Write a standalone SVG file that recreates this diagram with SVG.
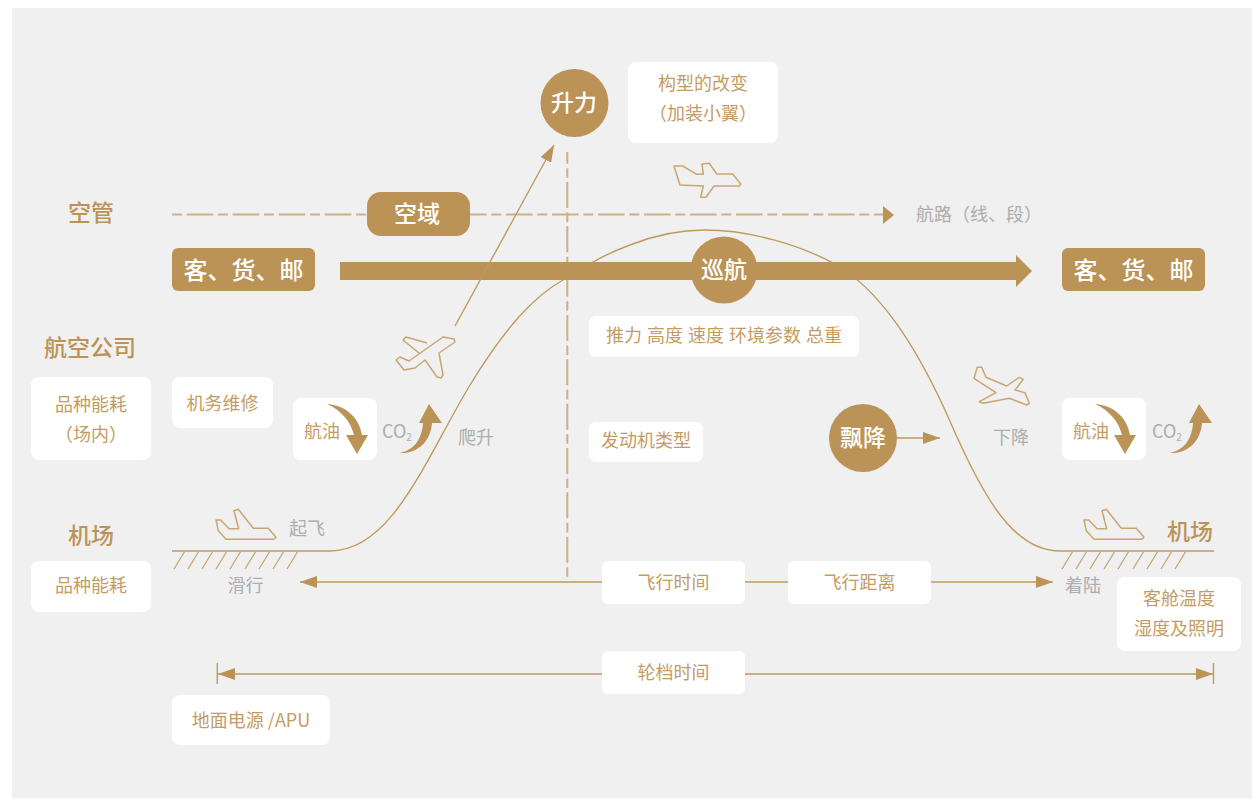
<svg xmlns="http://www.w3.org/2000/svg" width="1252" height="799" viewBox="0 0 1252 799">
<style>
text{font-family:"Noto Sans CJK SC","Noto Sans",sans-serif;text-anchor:middle}
.g{fill:#bb9357}.w{fill:#fff}
.t{font-size:18px;fill:#c49c62}
.s{font-size:18px;fill:#adadad}
.h{font-size:23px;font-weight:500;fill:#bb9357}
.b{font-size:24px;font-weight:500;fill:#fff}
.l{fill:none;stroke:#bf9a60;stroke-width:1.4}
.p{fill:none;stroke:#c9a672;stroke-width:1.5;stroke-linejoin:round}
.d{fill:none;stroke:#cdb084;stroke-width:2}
.h1{stroke:#c9a672;stroke-width:1.3;fill:none}
</style>
<defs>
<marker id="a" markerUnits="userSpaceOnUse" markerWidth="18" markerHeight="12" refX="17" refY="6" orient="auto"><path d="M0 0L17 6L0 12Z" class="g"/></marker>
<path id="fuel" d="M0 0C18 1 32 13 35 31L41 31L30 50L19 31L27 31C24 18 14 6 0 0Z" class="g"/>
<path id="co2" d="M0 49C14 47 23 36 24 19L20 19L30 0L43 19L33 19C32 36 20 50 0 49Z" class="g"/>
<path id="ground" d="M216 520L220.700 520L229 528.700L238.700 528.700L234 510.700L238.300 509.300L253.300 528.300L268.300 528.300L276 537.300L274 539.300L226 539.300L218.300 530.700Z" class="p"/>
</defs>
<rect x="12" y="8" width="1240" height="790.500" fill="#f0f0f0"/>
<g id="connectors">
<path class="d" d="M172 214.500H366" stroke-dasharray="10 4.700 26.600 4.700"/>
<path class="d" d="M460 214.500H884" stroke-dasharray="26.600 4.700 10 4.700"/>
<path class="g" d="M883 206L894 215L883 224Z"/>
<path class="d" d="M567.300 152V577" stroke-dasharray="26 4.500 9.600 4.230" stroke-dashoffset="14.300"/>
<path class="l" d="M172 551H330C392 551 425 460 470 385C505 328 533 297 563 280C585 267 600 256 630 245C655 235 680 230 705 230C750 230 800 245 835 264C880 290 915 345 945 410C980 490 1010 551 1060 551H1214"/>
<path class="g" d="M340 262H1016V255L1032 271L1016 287V280H340Z"/>
<path class="l" d="M455 326L554 145" marker-end="url(#a)"/>
<path class="l" d="M896 438H940" marker-end="url(#a)"/>
<path class="l" d="M602 582H300" marker-end="url(#a)"/>
<path class="l" d="M745 582H788M931 582H1053" marker-end="url(#a)"/>
<path class="l" d="M602 674H218" marker-end="url(#a)"/>
<path class="l" d="M745 674H1213" marker-end="url(#a)"/>
<path class="l" d="M217.300 663V684M1213.500 663V684"/>
<path class="h1" d="M174 569L185 551M188 569L199 551M202 569L213 551M216 569L227 551M230 569L241 551M245 569L256 551M259 569L270 551M273 569L284 551M287 569L298 551"/>
<path class="h1" d="M1062 569L1073 551M1076 569L1087 551M1090 569L1101 551M1104 569L1115 551M1118 569L1129 551M1133 569L1144 551M1147 569L1158 551M1161 569L1172 551M1175 569L1186 551"/>
</g>
<g id="plane-cruise"><path class="p" d="M674 166L682.700 166L696.700 174.300L703.300 174.300L702 164L709.300 163.300L716.700 174L732.700 174L740.700 184L739.300 186L714 186L706 197.300L700.700 197.300L703.300 186L680 185Z"/></g>
<g id="plane-climb"><path class="p" d="M427 343L406 337L403 340L419 353M443 337L454 339L455 342L439 353L443 375L441 378L437 377L425 360L415 368L404 370L396 360L400 357L409 361Z"/></g>
<g id="plane-descent"><path class="p" d="M974 378.300L977.300 367.300L981.700 367.300L986 377.300L1006.700 386L1019.300 377.300L1023.300 379.300L1015 390L1025 392.700L1029.300 403.300L1026.700 405L1009.300 398.300L983.300 403.300L979.300 401.700L996 392.700Z"/></g>
<g id="plane-takeoff"><use href="#ground"/></g>
<g id="plane-landing"><use href="#ground" x="868" y="0"/></g>
<g id="lift"><circle cx="574.500" cy="103" r="34" class="g"/><text x="574" y="111" class="b" style="font-size:23px">升力</text></g>
<g id="config"><rect x="628" y="62" width="150" height="81" rx="8" class="w"/><text x="703" y="90" class="t">构型的改变</text><text x="703" y="120" class="t">（加装小翼）</text></g>
<g id="atc"><text x="91" y="221" class="h">空管</text></g>
<g id="airspace"><rect x="367" y="192" width="103" height="44" rx="14" class="g"/><text x="417" y="222" class="b" style="font-size:23px">空域</text></g>
<g id="route"><text x="979" y="221" class="s">航路（线、段）</text></g>
<g id="cargo-l"><rect x="172" y="248" width="143" height="43" rx="6" class="g"/><text x="243.500" y="279" class="b">客、货、邮</text></g>
<g id="cargo-r"><rect x="1062" y="248" width="143" height="43" rx="6" class="g"/><text x="1133.500" y="279" class="b">客、货、邮</text></g>
<g id="cruise"><circle cx="724" cy="270" r="33.500" class="g"/><text x="724" y="278" class="b" style="font-size:23px">巡航</text></g>
<g id="params"><rect x="589" y="316" width="270" height="41" rx="7" class="w"/><text x="724" y="342" class="t" word-spacing="1">推力 高度 速度 环境参数 总重</text></g>
<g id="airline"><text x="90" y="356" class="h">航空公司</text></g>
<g id="fuel-inner"><rect x="31" y="377" width="120" height="83" rx="8" class="w"/><text x="91" y="411" class="t">品种能耗</text><text x="91" y="441" class="t">（场内）</text></g>
<g id="mro"><rect x="172" y="377" width="101" height="51" rx="8" class="w"/><text x="222.500" y="410" class="t">机务维修</text></g>
<g id="fuel-a"><rect x="293" y="398" width="84" height="62" rx="8" class="w"/><text x="322" y="438" class="t">航油</text><use href="#fuel" x="327" y="404"/></g>
<g id="co2-a"><text x="397" y="438" class="s" style="font-size:18px">CO<tspan font-size="10" dy="3">2</tspan></text><use href="#co2" x="399" y="404"/></g>
<g id="climb"><text x="476" y="444" class="s">爬升</text></g>
<g id="engine"><rect x="589" y="422" width="114" height="40" rx="7" class="w"/><text x="646" y="447" class="t">发动机类型</text></g>
<g id="drift"><circle cx="863" cy="438" r="34" class="g"/><text x="863" y="446" class="b" style="font-size:23px">飘降</text></g>
<g id="descent"><text x="1011" y="444" class="s">下降</text></g>
<g id="fuel-b"><rect x="1062" y="398" width="84" height="62" rx="8" class="w"/><text x="1091" y="438" class="t">航油</text><use href="#fuel" x="1095" y="404"/></g>
<g id="co2-b"><text x="1167" y="438" class="s" style="font-size:18px">CO<tspan font-size="10" dy="3">2</tspan></text><use href="#co2" x="1169" y="404"/></g>
<g id="takeoff"><text x="307" y="535" class="s">起飞</text></g>
<g id="airport-l"><text x="91" y="544" class="h">机场</text></g>
<g id="airport-r"><text x="1190" y="540" class="h">机场</text></g>
<g id="fuel-airport"><rect x="31" y="561" width="120" height="51" rx="8" class="w"/><text x="91" y="592" class="t">品种能耗</text></g>
<g id="taxi"><text x="245.500" y="592" class="s">滑行</text></g>
<g id="flight-time"><rect x="602" y="561" width="143" height="43" rx="6" class="w"/><text x="673.500" y="589" class="t">飞行时间</text></g>
<g id="distance"><rect x="788" y="561" width="143" height="43" rx="6" class="w"/><text x="859.500" y="589" class="t">飞行距离</text></g>
<g id="landing"><text x="1083" y="592" class="s">着陆</text></g>
<g id="cabin"><rect x="1117" y="577" width="124" height="74" rx="8" class="w"/><text x="1179" y="605" class="t">客舱温度</text><text x="1179" y="635" class="t">湿度及照明</text></g>
<g id="block-time"><rect x="602" y="651" width="143" height="43" rx="6" class="w"/><text x="673.500" y="679" class="t">轮档时间</text></g>
<g id="apu"><rect x="172" y="695" width="158" height="50" rx="8" class="w"/><text x="251" y="727" class="t">地面电源 /APU</text></g>
</svg>
